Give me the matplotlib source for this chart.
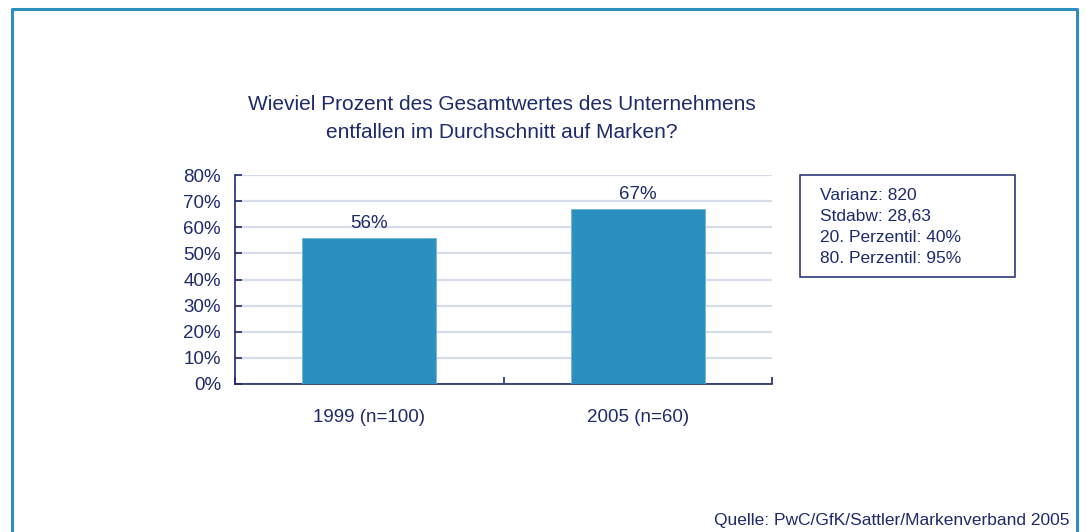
import matplotlib.pyplot as plt
from matplotlib.patches import Rectangle
from matplotlib.ticker import PercentFormatter

categories = ["1999 (n=100)", "2005 (n=60)"]
values = [56, 67]
yticks = [0, 10, 20, 30, 40, 50, 60, 70, 80]
stats = ["Varianz: 820", "Stdabw: 28,63", "20. Perzentil: 40%", "80. Perzentil: 95%"]
title = "Wieviel Prozent des Gesamtwertes des Unternehmens\nentfallen im Durchschnitt auf Marken?"
source = "Quelle: PwC/GfK/Sattler/Markenverband 2005"

navy = "#1f2a6b"
blue = "#2b8fc0"
grid = "#d8dce8"

plt.rcParams["font.family"] = ["Liberation Sans", "DejaVu Sans"]

fig = plt.figure(figsize=(10.86, 5.32), dpi=100)

# outer frame, open at the bottom
W, H = 1086, 532
x0, x1, y0 = 12 / W, 1077 / W, 1 - 9 / H
fig.add_artist(plt.Line2D([x0, x0, x1, x1], [0, y0, y0, 0], color=blue, lw=2.2,
                          transform=fig.transFigure))

ax = fig.add_axes([235 / W, 1 - 384 / H, 537 / W, 209 / H])
xs = range(len(categories))
bars = ax.bar(xs, values, width=0.5, color=blue, edgecolor="#6fb5d8", linewidth=0.6, zorder=3)
for b, v in zip(bars, values):
    ax.text(b.get_x() + b.get_width() / 2, v + 2.3, f"{v}%", ha="center", va="bottom",
            fontsize=13.5, color=navy)

ax.set_xlim(-0.5, 1.5)
ax.set_ylim(0, 80)
ax.set_yticks(yticks)
ax.yaxis.set_major_formatter(PercentFormatter(decimals=0))
ax.set_xticks([-0.5, 0.5, 1.5])
ax.set_xticklabels([])
ax.set_xticks(list(xs), minor=True)
ax.set_xticklabels(categories, minor=True)
ax.tick_params(axis="x", which="minor", length=0, pad=18, labelsize=13.5, labelcolor=navy)
ax.tick_params(axis="x", which="major", direction="in", length=5, color=navy, width=1.2)
ax.tick_params(axis="y", direction="in", length=5, color=navy, width=1.2, pad=10,
               labelsize=13.5, labelcolor=navy)
ax.grid(axis="y", color=grid, lw=1.6, zorder=0)
for s in ["top", "right"]:
    ax.spines[s].set_visible(False)
for s in ["left", "bottom"]:
    ax.spines[s].set_color(navy)
    ax.spines[s].set_linewidth(1.2)

fig.text(502 / W, 1 - 119 / H, title, ha="center", va="center", fontsize=15,
         color=navy, linespacing=1.6)

fig.add_artist(Rectangle((800 / W, 1 - 277 / H), 215 / W, 102 / H, fill=False,
                         edgecolor=navy, lw=1.1, transform=fig.transFigure))
for i, line in enumerate(stats):
    fig.text(820 / W, 1 - (196 + i * 20.7) / H, line, ha="left", va="center",
             fontsize=12.5, color=navy)

fig.text(1069 / W, 1 - 521 / H, source, ha="right", va="center", fontsize=12.5, color=navy)

fig.savefig("out.png", dpi=100)
